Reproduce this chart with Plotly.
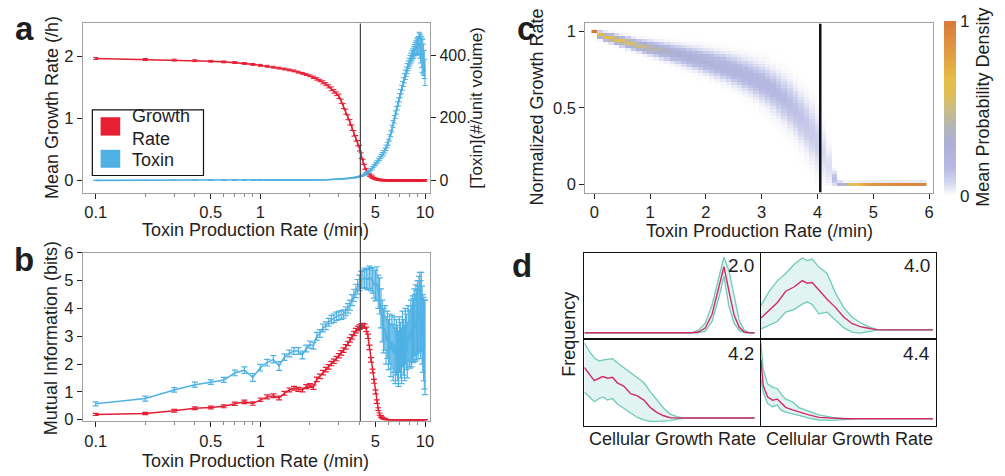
import math
import plotly.graph_objects as go

FONT = "Liberation Sans, Arial, Helvetica, sans-serif"
W, H = 1005, 476

# ---------------- data: panels a & b ----------------
RATE = [0.1, 0.2, 0.3, 0.4, 0.5, 0.6, 0.7, 0.8, 0.9, 1.0,
        1.1, 1.2, 1.3, 1.4, 1.5, 1.6, 1.7, 1.8, 1.9, 2.0,
        2.1, 2.2, 2.3, 2.4, 2.5, 2.6, 2.7, 2.8, 2.9, 3.0,
        3.1, 3.2, 3.3, 3.4, 3.5, 3.6, 3.7, 3.8, 3.9, 4.0,
        4.1, 4.2, 4.3, 4.4, 4.5, 4.6, 4.7, 4.8, 4.9, 5.0,
        5.1, 5.2, 5.3, 5.4, 5.5, 5.6, 5.7, 5.8, 5.9, 6.0,
        6.1, 6.2, 6.3, 6.4, 6.5, 6.6, 6.7, 6.8, 6.9, 7.0,
        7.1, 7.2, 7.3, 7.4, 7.5, 7.6, 7.7, 7.8, 7.9, 8.0,
        8.1, 8.2, 8.3, 8.4, 8.5, 8.6, 8.7, 8.8, 8.9, 9.0,
        9.1, 9.2, 9.3, 9.4, 9.5, 9.6, 9.7, 9.8, 9.9, 10.0]

GROWTH = [1.97, 1.955, 1.945, 1.935, 1.925, 1.915, 1.905, 1.89, 1.875, 1.86,
          1.845, 1.83, 1.815, 1.80, 1.785, 1.77, 1.75, 1.73, 1.71, 1.69,
          1.665, 1.64, 1.615, 1.585, 1.555, 1.52, 1.48, 1.44, 1.40, 1.36,
          1.28, 1.20, 1.11, 1.02, 0.94, 0.85, 0.76, 0.68, 0.60, 0.52,
          0.40, 0.30, 0.22, 0.16, 0.12, 0.09, 0.07, 0.05, 0.035, 0.025,
          0.018, 0.012, 0.008, 0.005, 0.004, 0.003, 0.002, 0.002, 0.001, 0.001,
          0, 0, 0, 0, 0, 0, 0, 0, 0, 0,
          0, 0, 0, 0, 0, 0, 0, 0, 0, 0,
          0, 0, 0, 0, 0, 0, 0, 0, 0, 0,
          0, 0, 0, 0, 0, 0, 0, 0, 0, 0]
GROWTH_ERR = [0.015] * 20 + \
    [0.02, 0.02, 0.02, 0.025, 0.025, 0.025, 0.03, 0.03, 0.03, 0.035,
     0.035, 0.04, 0.04, 0.04, 0.045, 0.045, 0.045, 0.045, 0.045, 0.045,
     0.045, 0.04, 0.04, 0.035, 0.03, 0.025, 0.02, 0.02, 0.015, 0.015] + [0.012] * 50

TOXIN = [0.2, 0.2, 0.2, 0.3, 0.3, 0.3, 0.3, 0.4, 0.4, 0.4,
         0.5, 0.5, 0.6, 0.6, 0.7, 0.8, 0.9, 1.0, 1.1, 1.3,
         1.4, 1.6, 1.8, 2.0, 2.3, 2.6, 2.9, 3.2, 3.6, 4.0,
         4.5, 5.0, 5.6, 6.2, 7.0, 7.8, 8.7, 9.7, 10.8, 12.0,
         14, 16, 19, 22, 26, 30, 35, 40, 46, 52,
         58, 64, 70, 76, 82, 88, 95, 104, 113, 122,
         136, 150, 165, 180, 195, 210, 224, 238, 251, 264,
         277, 290, 302, 314, 326, 337, 347, 357, 366, 374,
         382, 389, 396, 402, 408, 414, 420, 424, 428, 430,
         430, 438, 430, 420, 410, 400, 395, 385, 370, 345]
TOXIN_ERR = [0.3] * 20 + [0.4] * 10 + \
    [0.6, 0.6, 0.7, 0.7, 0.8, 0.9, 1.0, 1.1, 1.2, 1.3,
     1.5, 1.7, 2, 2.3, 2.6, 3, 3.4, 3.8, 4.2, 4.6,
     5, 5.5, 6, 6.5, 7, 7.5, 8, 8.5, 9, 9.5,
     10, 10, 11, 11, 12, 12, 12, 13, 13, 13,
     13, 14, 14, 14, 15, 15, 15, 16, 16, 16,
     17, 17, 18, 18, 19, 20, 21, 22, 24, 26,
     30, 35, 40, 45, 50, 55, 55, 50, 45, 42]

MI_GROWTH = [0.19, 0.22, 0.32, 0.41, 0.44, 0.48, 0.57, 0.64, 0.58, 0.72,
             0.82, 0.86, 0.78, 0.95, 1.07, 1.13, 1.09, 1.07, 1.19, 1.23,
             1.17, 1.45, 1.56, 1.69, 1.80, 1.90, 2.02, 2.10, 2.20, 2.30,
             2.40, 2.50, 2.62, 2.74, 2.87, 2.98, 3.10, 3.20, 3.28, 3.33,
             3.37, 3.38, 3.36, 3.25, 3.00, 2.60, 2.15, 1.75, 1.38, 1.00,
             0.65, 0.38, 0.20, 0.12, 0.07, 0.04, 0.02, 0.01, 0.005, 0,
             0, 0, 0, 0, 0, 0, 0, 0, 0, 0,
             0, 0, 0, 0, 0, 0, 0, 0, 0, 0,
             0, 0, 0, 0, 0, 0, 0, 0, 0, 0,
             0, 0, 0, 0, 0, 0, 0, 0, 0, 0]
MI_GROWTH_ERR = [0.04, 0.04, 0.05, 0.05, 0.05, 0.05, 0.06, 0.06, 0.06, 0.06] + \
    [0.07] * 10 + [0.08] * 20 + \
    [0.08, 0.08, 0.08, 0.08, 0.08, 0.08, 0.08, 0.07, 0.07, 0.07,
     0.06, 0.05, 0.04, 0.03, 0.02, 0.02, 0.01, 0.01, 0.0, 0.0] + [0.0] * 40

MI_TOXIN = [0.57, 0.76, 1.07, 1.26, 1.35, 1.43, 1.68, 1.78, 1.52, 1.87,
            2.05, 2.17, 1.93, 2.25, 2.38, 2.47, 2.47, 2.33, 2.56, 2.70,
            2.66, 3.00, 3.10, 3.30, 3.38, 3.50, 3.60, 3.65, 3.72, 3.75,
            3.76, 3.80, 3.90, 4.00, 4.12, 4.30, 4.47, 4.63, 4.78, 4.92,
            5.03, 5.06, 5.10, 5.05, 5.05, 5.12, 5.05, 5.00, 4.87, 4.82,
            4.90, 4.60, 4.45, 4.00, 3.55, 3.20, 3.30, 2.85, 3.05, 2.70,
            2.90, 2.50, 2.80, 2.40, 2.70, 2.30, 2.60, 2.40, 2.20, 2.70,
            2.50, 2.30, 2.90, 2.60, 2.40, 3.00, 2.80, 2.50, 3.10, 2.90,
            2.90, 3.20, 3.00, 3.30, 3.20, 3.50, 3.30, 3.60, 3.40, 3.70,
            3.50, 3.80, 3.90, 3.60, 3.90, 3.40, 3.10, 2.90, 2.70, 2.60]
MI_TOXIN_ERR = [0.07, 0.09, 0.08, 0.09, 0.08, 0.09, 0.10, 0.12, 0.14, 0.12,
                0.12, 0.13, 0.16, 0.12, 0.12, 0.12, 0.12, 0.14, 0.12, 0.13,
                0.12, 0.14, 0.14, 0.14, 0.14, 0.14, 0.15, 0.15, 0.15, 0.15,
                0.15, 0.15, 0.16, 0.17, 0.18, 0.20, 0.22, 0.24, 0.26, 0.28,
                0.30, 0.32, 0.35, 0.35, 0.38, 0.40, 0.42, 0.45, 0.50, 0.55,
                0.60, 0.60, 0.65, 0.70, 0.75, 0.80, 0.80, 0.85, 0.85, 0.90,
                0.90, 0.95, 0.95, 1.0, 1.0, 1.0, 1.0, 1.0, 1.0, 1.0,
                1.0, 1.0, 1.0, 1.0, 1.0, 1.0, 1.0, 1.0, 1.0, 1.0,
                1.05, 1.1, 1.1, 1.15, 1.15, 1.2, 1.2, 1.25, 1.25, 1.3,
                1.3, 1.35, 1.4, 1.4, 1.4, 1.4, 1.4, 1.5, 1.6, 1.7]

THRESHOLD = 4.05

# ---------------- data: panel c (per-column density profile) ----------------
HM_X = [0.0, 0.1, 0.2, 0.3, 0.4, 0.5, 0.6, 0.7, 0.8, 0.9,
        1.0, 1.1, 1.2, 1.3, 1.4, 1.5, 1.6, 1.7, 1.8, 1.9,
        2.0, 2.1, 2.2, 2.3, 2.4, 2.5, 2.6, 2.7, 2.8, 2.9,
        3.0, 3.1, 3.2, 3.3, 3.4, 3.5, 3.6, 3.7, 3.8, 3.9,
        4.0, 4.1, 4.2, 4.3, 4.4, 4.5, 4.6, 4.7, 4.8, 4.9,
        5.0, 5.1, 5.2, 5.3, 5.4, 5.5, 5.6, 5.7, 5.8, 5.9]
HM_Y = [0.0, 0.02, 0.04, 0.06, 0.08, 0.1, 0.12, 0.14, 0.16, 0.18,
        0.2, 0.22, 0.24, 0.26, 0.28, 0.3, 0.32, 0.34, 0.36, 0.38,
        0.4, 0.42, 0.44, 0.46, 0.48, 0.5, 0.52, 0.54, 0.56, 0.58,
        0.6, 0.62, 0.64, 0.66, 0.68, 0.7, 0.72, 0.74, 0.76, 0.78,
        0.8, 0.82, 0.84, 0.86, 0.88, 0.9, 0.92, 0.94, 0.96, 0.98, 1.0]
HM_CENTER = [1.0, 0.975, 0.965, 0.955, 0.945, 0.935, 0.925, 0.915, 0.905, 0.897,
             0.89, 0.882, 0.874, 0.866, 0.858, 0.85, 0.841, 0.832, 0.823, 0.813,
             0.803, 0.792, 0.781, 0.77, 0.758, 0.745, 0.731, 0.716, 0.70, 0.682,
             0.662, 0.64, 0.615, 0.587, 0.556, 0.52, 0.48, 0.436, 0.388, 0.335,
             0.275, 0.20, 0.12, 0.04, 0.0, 0.0, 0.0, 0.0, 0.0, 0.0,
             0.0, 0.0, 0.0, 0.0, 0.0, 0.0, 0.0, 0.0, 0.0, 0.0]
HM_SPREAD = [0.006, 0.013, 0.015, 0.016, 0.017, 0.018, 0.019, 0.02, 0.021, 0.023,
             0.025, 0.026, 0.028, 0.029, 0.031, 0.033, 0.035, 0.037, 0.039, 0.041,
             0.043, 0.045, 0.047, 0.049, 0.051, 0.054, 0.057, 0.06, 0.063, 0.066,
             0.07, 0.073, 0.077, 0.081, 0.085, 0.089, 0.093, 0.098, 0.103, 0.108,
             0.112, 0.1, 0.08, 0.03, 0.012, 0.008, 0.008, 0.008, 0.008, 0.008,
             0.008, 0.008, 0.008, 0.008, 0.008, 0.008, 0.008, 0.008, 0.008, 0.008]
HM_PEAK = [1.0, 0.68, 0.66, 0.64, 0.62, 0.60, 0.57, 0.54, 0.50, 0.47,
           0.44, 0.41, 0.38, 0.35, 0.33, 0.31, 0.29, 0.28, 0.27, 0.26,
           0.25, 0.25, 0.24, 0.24, 0.23, 0.23, 0.22, 0.22, 0.21, 0.20,
           0.20, 0.19, 0.18, 0.17, 0.16, 0.15, 0.14, 0.13, 0.12, 0.11,
           0.10, 0.07, 0.06, 0.15, 0.25, 0.40, 0.55, 0.65, 0.75, 0.82,
           0.86, 0.88, 0.90, 0.91, 0.92, 0.93, 0.94, 0.94, 0.95, 0.95]

# ---------------- data: panel d (frequency distributions) ----------------
D_LABELS = ["2.0", "4.0", "4.2", "4.4"]
D20_X = [0, 0.63, 0.67, 0.71, 0.75, 0.79, 0.82, 0.85, 0.88, 0.91, 0.94, 0.97, 1.0]
D20_MEAN = [0, 0, 0.01, 0.06, 0.23, 0.58, 0.83, 0.52, 0.22, 0.07, 0.01, 0, 0]
D20_UP = [0, 0, 0.03, 0.12, 0.35, 0.70, 0.95, 0.78, 0.45, 0.15, 0.03, 0, 0]
D20_LO = [0, 0, 0, 0.02, 0.14, 0.44, 0.71, 0.33, 0.12, 0.03, 0, 0, 0]

D40_X = [0, 0.048, 0.096, 0.144, 0.192, 0.24, 0.269, 0.298, 0.337, 0.385, 0.433,
         0.481, 0.529, 0.577, 0.625, 0.673, 0.721, 1.0]
D40_MEAN = [0.155, 0.252, 0.357, 0.504, 0.559, 0.643, 0.609, 0.618, 0.517, 0.399,
            0.294, 0.168, 0.084, 0.042, 0.021, 0.004, 0, 0]
D40_UP = [0.315, 0.504, 0.643, 0.735, 0.853, 0.937, 0.903, 0.924, 0.819, 0.735,
          0.483, 0.294, 0.168, 0.097, 0.042, 0.008, 0, 0]
D40_LO = [0.013, 0.063, 0.113, 0.231, 0.265, 0.336, 0.366, 0.332, 0.21, 0.231,
          0.126, 0.029, -0.029, -0.042, -0.021, -0.004, 0, 0]

D42_X = [0, 0.029, 0.058, 0.087, 0.107, 0.136, 0.165, 0.194, 0.233, 0.272, 0.311,
         0.35, 0.388, 0.427, 0.466, 0.505, 0.544, 0.583, 1.0]
D42_MEAN = [0.651, 0.567, 0.483, 0.513, 0.534, 0.513, 0.525, 0.454, 0.408, 0.315,
            0.286, 0.231, 0.134, 0.071, 0.029, 0.004, 0, 0, 0]
D42_UP = [0.966, 0.861, 0.777, 0.735, 0.748, 0.756, 0.765, 0.714, 0.651, 0.588,
          0.525, 0.454, 0.336, 0.231, 0.126, 0.05, 0.017, 0, 0]
D42_LO = [0.336, 0.273, 0.21, 0.252, 0.273, 0.231, 0.252, 0.181, 0.126, 0.063,
          0.008, -0.025, -0.042, -0.042, -0.042, -0.034, -0.017, -0.004, 0]

D44_X = [0, 0.013, 0.038, 0.067, 0.096, 0.115, 0.144, 0.183, 0.221, 0.279, 0.337,
         0.413, 0.49, 0.567, 1.0]
D44_MEAN = [0.765, 0.429, 0.282, 0.239, 0.252, 0.21, 0.147, 0.113, 0.084, 0.05,
            0.017, 0.004, 0, 0, 0]
D44_UP = [0.975, 0.639, 0.45, 0.408, 0.387, 0.324, 0.252, 0.218, 0.143, 0.092,
          0.05, 0.017, 0, 0, 0]
D44_LO = [0.513, 0.345, 0.197, 0.155, 0.176, 0.113, 0.084, 0.059, 0.042, 0.008,
          -0.017, -0.021, -0.008, 0, 0]

# ---------------- styling ----------------
RED = "#e61f35"
BLUE = "#4fb1e4"
TEAL = "#6fcab9"
PINK = "#d42a6a"
TXT = "#1e1e1e"


def px(x):
    return x / W


def py(y):
    return 1 - y / H


fig = go.Figure()

# panel a
fig.add_trace(go.Scatter(x=RATE, y=GROWTH, mode="lines", line=dict(color=RED, width=1.6),
                         error_y=dict(type="data", array=GROWTH_ERR, color=RED, thickness=1, width=2.5),
                         xaxis="x", yaxis="y", showlegend=False))
fig.add_trace(go.Scatter(x=RATE, y=TOXIN, mode="lines", line=dict(color=BLUE, width=1.6),
                         error_y=dict(type="data", array=TOXIN_ERR, color=BLUE, thickness=1, width=2.5),
                         xaxis="x", yaxis="y2", showlegend=False))
# panel b
fig.add_trace(go.Scatter(x=RATE, y=MI_TOXIN, mode="lines", line=dict(color=BLUE, width=1.5),
                         error_y=dict(type="data", array=MI_TOXIN_ERR, color=BLUE, thickness=1.2, width=3),
                         xaxis="x3", yaxis="y3", showlegend=False))
fig.add_trace(go.Scatter(x=RATE, y=MI_GROWTH, mode="lines", line=dict(color=RED, width=1.5),
                         error_y=dict(type="data", array=MI_GROWTH_ERR, color=RED, thickness=1.2, width=3),
                         xaxis="x3", yaxis="y3", showlegend=False))

# panel c heatmap (table built from per-column profile)
Z = []
for yv in HM_Y:
    row = []
    for mu, sd, pk in zip(HM_CENTER, HM_SPREAD, HM_PEAK):
        row.append(pk * math.exp(-0.5 * ((yv - mu) / sd) ** 2))
    Z.append(row)

CSCALE = [[0.0, "#ffffff"], [0.03, "#efeff8"], [0.08, "#d3d5ef"], [0.16, "#b7bae2"],
          [0.3, "#adb0d6"], [0.4, "#b6b5b5"], [0.48, "#c7bb8c"], [0.58, "#dfbf55"],
          [0.66, "#e6bd48"], [0.8, "#e2a042"], [0.9, "#dd8c3e"], [1.0, "#d9783a"]]

fig.add_trace(go.Heatmap(x=HM_X, y=HM_Y, z=Z, zmin=0, zmax=1, colorscale=CSCALE,
                         xaxis="x4", yaxis="y4", zsmooth=False, hoverinfo="skip",
                         colorbar=dict(x=px(947.5), xanchor="left", y=py(102.5), yanchor="middle",
                                       len=175, lenmode="pixels", thickness=12, thicknessmode="pixels",
                                       outlinewidth=0, tickvals=[0, 1], ticktext=["0", "1"],
                                       ticks="", tickfont=dict(size=17, color=TXT, family=FONT),
                                       xpad=0, ypad=0)))
fig.add_trace(go.Scatter(x=[THRESHOLD, THRESHOLD], y=[-0.053, 1.052], mode="lines",
                         line=dict(color="#111", width=2.5), xaxis="x4", yaxis="y4",
                         showlegend=False, hoverinfo="skip"))

# panel d
D_SETS = [(D20_X, D20_MEAN, D20_UP, D20_LO), (D40_X, D40_MEAN, D40_UP, D40_LO),
          (D42_X, D42_MEAN, D42_UP, D42_LO), (D44_X, D44_MEAN, D44_UP, D44_LO)]
for i, (dx, dm, du, dl) in enumerate(D_SETS):
    xa, ya = "x%d" % (5 + i), "y%d" % (5 + i)
    fig.add_trace(go.Scatter(x=dx, y=dl, mode="lines", line=dict(color=TEAL, width=1.3),
                             xaxis=xa, yaxis=ya, showlegend=False))
    fig.add_trace(go.Scatter(x=dx, y=du, mode="lines", line=dict(color=TEAL, width=1.3),
                             fill="tonexty", fillcolor="rgba(111,202,185,0.2)",
                             xaxis=xa, yaxis=ya, showlegend=False))
    fig.add_trace(go.Scatter(x=dx, y=dm, mode="lines", line=dict(color=PINK, width=1.4),
                             xaxis=xa, yaxis=ya, showlegend=False))


def frame_axis(**kw):
    base = dict(showgrid=False, zeroline=False, showline=True, linecolor="#a0a0a0",
                linewidth=1, mirror=True, ticks="outside", ticklen=5, tickwidth=1,
                tickcolor="#222", tickfont=dict(size=16.5, color=TXT, family=FONT))
    base.update(kw)
    return base


def d_axis(**kw):
    base = dict(showgrid=False, zeroline=False, showline=True, linecolor="#111",
                linewidth=1.3, mirror=True, ticks="", showticklabels=False)
    base.update(kw)
    return base


LOG_MINOR = dict(ticks="outside", ticklen=3, tickcolor="#888",
                 tickvals=[0.2, 0.3, 0.4, 0.6, 0.7, 0.8, 0.9, 2, 3, 4, 6, 7, 8, 9])
AB_DOM_X = [px(83), px(432)]
XR = [-1.079, 1.032]

layout = dict(
    width=W, height=H, margin=dict(l=0, r=0, t=0, b=0),
    paper_bgcolor="white", plot_bgcolor="white",
    font=dict(family=FONT, color=TXT),
    xaxis=frame_axis(type="log", range=XR, domain=AB_DOM_X, anchor="y",
                     tickvals=[0.1, 0.5, 1, 5, 10], ticktext=["0.1", "0.5", "1", "5", "10"],
                     minor=LOG_MINOR),
    yaxis=frame_axis(range=[-0.198, 2.536], domain=[py(190), py(15)], anchor="x",
                     tickvals=[0, 1, 2]),
    yaxis2=frame_axis(range=[-39, 501], overlaying="y", side="right", anchor="x",
                      tickvals=[0, 200, 400], ticktext=["0", "200.", "400."], showline=False,
                      tickfont=dict(size=16, color=TXT, family=FONT)),
    xaxis3=frame_axis(type="log", range=XR, domain=AB_DOM_X, anchor="y3",
                      tickvals=[0.1, 0.5, 1, 5, 10], ticktext=["0.1", "0.5", "1", "5", "10"],
                      minor=LOG_MINOR),
    yaxis3=frame_axis(range=[-0.06, 6.0], domain=[py(426.7), py(252.3)], anchor="x3",
                      tickvals=[0, 1, 2, 3, 4, 5, 6]),
    xaxis4=frame_axis(range=[-0.16, 6.07], domain=[px(587.7), px(936.7)], anchor="y4",
                      tickvals=[0, 1, 2, 3, 4, 5, 6]),
    yaxis4=frame_axis(range=[-0.053, 1.052], domain=[py(190), py(15)], anchor="x4",
                      tickvals=[0, 0.5, 1], ticktext=["0", "0.5", "1"]),
    xaxis5=d_axis(range=[0, 1.03], domain=[px(586.7), px(762.7)], anchor="y5"),
    yaxis5=d_axis(range=[-0.06, 1.0], domain=[py(340), py(252.7)], anchor="x5"),
    xaxis6=d_axis(range=[0, 1.02], domain=[px(764), px(940)], anchor="y6"),
    yaxis6=d_axis(range=[-0.1, 1.0], domain=[py(340), py(252.7)], anchor="x6"),
    xaxis7=d_axis(range=[0, 1.03], domain=[px(586.7), px(762.7)], anchor="y7"),
    yaxis7=d_axis(range=[-0.105, 1.0], domain=[py(431.7), py(343)], anchor="x7"),
    xaxis8=d_axis(range=[0, 1.02], domain=[px(764), px(940)], anchor="y8"),
    yaxis8=d_axis(range=[-0.097, 1.01], domain=[py(431.7), py(343)], anchor="x8"),
)
fig.update_layout(**layout)

shapes = [
    # threshold line through a and b (shape x on a log axis takes the data value)
    dict(type="line", xref="x", yref="paper", x0=THRESHOLD, x1=THRESHOLD,
         y0=py(426.7), y1=py(15), line=dict(color="#444", width=1.2), layer="above"),
    # legend box for panel a
    dict(type="rect", xref="paper", yref="paper", x0=px(92.7), x1=px(204.3), y0=py(172.3), y1=py(104.3),
         line=dict(color="#111", width=1.2), fillcolor="white", layer="above"),
    dict(type="rect", xref="paper", yref="paper", x0=px(101), x1=px(120.7), y0=py(131), y1=py(112),
         line=dict(width=0), fillcolor=RED, layer="above"),
    dict(type="rect", xref="paper", yref="paper", x0=px(101), x1=px(120.7), y0=py(164.3), y1=py(145.7),
         line=dict(width=0), fillcolor=BLUE, layer="above"),
]
fig.update_layout(shapes=shapes)


def ann(text, x, y, size=18, angle=0, xanchor="center", yanchor="middle", bold=False, align="center"):
    return dict(text=("<b>%s</b>" % text) if bold else text, x=px(x), y=py(y),
                xref="paper", yref="paper", showarrow=False, textangle=angle,
                xanchor=xanchor, yanchor=yanchor, align=align,
                font=dict(size=size, color=TXT, family=FONT))


annotations = [
    ann("a", 24.5, 20, size=33, bold=True),
    ann("b", 24, 259, size=33, bold=True),
    ann("c", 528, 20, size=33, bold=True),
    ann("d", 524, 265, size=33, bold=True),
    ann("Mean Growth Rate (/h)", 52, 101.7, angle=-90),
    ann("[Toxin](#/unit volume)", 478, 102, size=17, angle=-90),
    ann("Toxin Production Rate (/min)", 256.5, 229),
    ann("Mutual Information (bits)", 52, 340.8, angle=-90),
    ann("Toxin Production Rate (/min)", 256.5, 468),
    ann("Normalized Growth Rate", 539, 101, angle=-90),
    ann("Toxin Production Rate (/min)", 762.5, 230),
    ann("Mean Probability Density", 986, 102, angle=-90),
    ann("Growth<br>Rate", 131, 123, size=18, xanchor="left", align="left"),
    ann("Toxin", 131, 156, size=18, xanchor="left", align="left"),
    ann("Frequency", 571.7, 336.7, angle=-90),
    ann("Cellular Growth Rate", 674.7, 445),
    ann("Cellular Growth Rate", 852.5, 445),
    ann(D_LABELS[0], 759, 265, size=19, xanchor="right"),
    ann(D_LABELS[1], 936, 265, size=19, xanchor="right"),
    ann(D_LABELS[2], 759, 356.7, size=19, xanchor="right"),
    ann(D_LABELS[3], 936, 356.7, size=19, xanchor="right"),
]
fig.update_layout(annotations=annotations)

fig.write_html("out.html")
